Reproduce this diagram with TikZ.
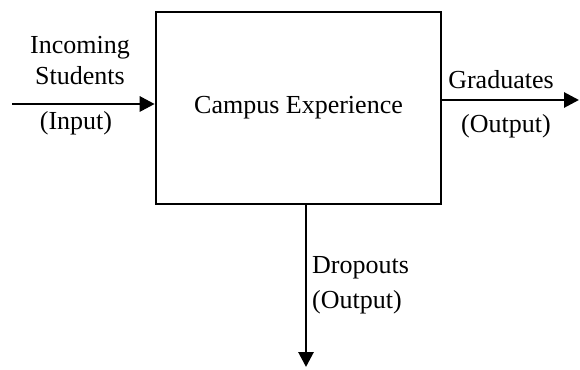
\documentclass[tikz,border=0pt]{standalone}
\usepackage{fontspec}
\setmainfont{Liberation Serif}
\usetikzlibrary{arrows.meta, positioning, calc}
\tikzset{
  every node/.style={font=\fontsize{26}{31}\selectfont},
  arr/.style={-{Triangle[length=15pt,width=15pt]}, line width=2.9pt, black},
  sysbox/.style={draw=black, line width=2.6pt, fill=white,
                 minimum width=285pt, minimum height=192pt, inner sep=0pt},
  lbl/.style={inner sep=0pt, align=center}
}

\begin{document}
\begin{tikzpicture}[x=1pt,y=1pt]
\useasboundingbox (0,0) rectangle (580,369);

% The system
\node[sysbox] (campus) at (298.5,261) {Campus Experience};

% Input side
\coordinate (inStart) at (12,265);
\draw[arr] (inStart) -- (campus.west |- inStart);
\node[lbl] (incoming) at (80,308) {Incoming\\Students};
\node[lbl] (input) at (76,246) {(Input)};

% Output: graduates
\coordinate (gradEnd) at (579,269);
\draw[arr] (campus.east |- gradEnd) -- (gradEnd);
\node[lbl] (grad) at (501,289) {Graduates};
\node[lbl] (gradOut) at (506,243) {(Output)};

% Output: dropouts
\coordinate (dropEnd) at (306,2);
\draw[arr] (campus.south -| dropEnd) -- (dropEnd);
\node[lbl, anchor=west] (drop) at (312,101) {Dropouts};
\node[lbl, anchor=west] (dropOut) at (312,67) {(Output)};

\end{tikzpicture}
\end{document}
